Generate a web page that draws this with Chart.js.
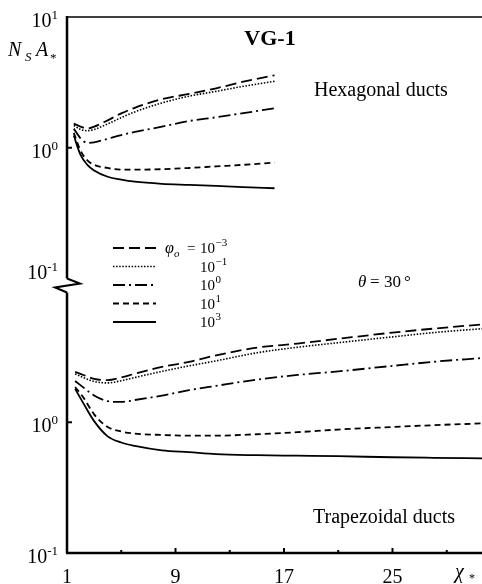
<!DOCTYPE html>
<html><head><meta charset="utf-8">
<script src="https://cdn.jsdelivr.net/npm/chart.js@4.4.1/dist/chart.umd.min.js"></script>
<style>html,body{margin:0;padding:0;background:#fff}#wrap{width:482px;height:584px}</style>
</head><body><div id="wrap"><canvas id="c" width="482" height="584"></canvas></div>
<script>
// ---- data ----
const phiExponents = ['-3', '-1', '0', '1', '3'];
const xTicks = [1, 9, 17, 25];
const xMinorTicks = [5, 13, 21, 29];
const yTopTicks = [0.1, 1, 10];
const yBottomTicks = [0.1, 1];

// Hexagonal ducts (upper panel)
const hexX      = [1.5, 2, 2.5, 3, 4, 5, 6, 8, 10, 12, 14, 16.3];
const hexPhiM3  = [1.53, 1.45, 1.40, 1.45, 1.62, 1.83, 2.02, 2.35, 2.58, 2.85, 3.2, 3.58];
const hexPhiM1  = [1.48, 1.38, 1.35, 1.38, 1.52, 1.70, 1.88, 2.2, 2.48, 2.7, 2.95, 3.22];
const hexPhi0   = [1.40, 1.18, 1.09, 1.10, 1.17, 1.25, 1.32, 1.45, 1.6, 1.71, 1.84, 2.0];
const hexPhi1   = [1.30, 0.95, 0.80, 0.74, 0.70, 0.68, 0.68, 0.685, 0.70, 0.72, 0.74, 0.77];
const hexPhi3   = [1.24, 0.88, 0.74, 0.67, 0.60, 0.57, 0.55, 0.53, 0.52, 0.51, 0.50, 0.49];

// Trapezoidal ducts (lower panel)
const trapX     = [1.6, 2.2, 3, 4, 5, 6, 8, 10, 12, 15, 18, 21, 25, 28, 31.6];
const trapPhiM3 = [2.43, 2.3, 2.15, 2.1, 2.2, 2.35, 2.65, 2.9, 3.25, 3.72, 4.0, 4.35, 4.85, 5.2, 5.6];
const trapPhiM1 = [2.34, 2.2, 2.05, 2.0, 2.08, 2.2, 2.45, 2.7, 2.95, 3.4, 3.75, 4.06, 4.5, 4.85, 5.2];
const trapPhi0  = [2.07, 1.85, 1.6, 1.45, 1.43, 1.48, 1.6, 1.76, 1.9, 2.12, 2.3, 2.45, 2.7, 2.9, 3.1];
const trapPhi1  = [1.86, 1.55, 1.15, 0.92, 0.85, 0.82, 0.80, 0.79, 0.79, 0.81, 0.84, 0.88, 0.92, 0.95, 0.98];
const trapPhi3  = [1.8, 1.4, 1.02, 0.78, 0.70, 0.66, 0.61, 0.59, 0.57, 0.56, 0.555, 0.55, 0.54, 0.535, 0.53];

// ---- styling ----
const dashes = [[11, 5], [1.5, 1.6], [12, 4, 2, 4], [6, 4], []];
const SERIF = '"Liberation Serif", "DejaVu Serif", serif';
const hexSeries = [hexPhiM3, hexPhiM1, hexPhi0, hexPhi1, hexPhi3];
const trapSeries = [trapPhiM3, trapPhiM1, trapPhi0, trapPhi1, trapPhi3];

function mk(xs, ys, axis, i) {
  return {
    data: xs.map((x, k) => ({x: x, y: ys[k]})),
    yAxisID: axis, borderColor: '#000', borderWidth: i === 1 ? 1.6 : 1.8,
    borderDash: dashes[i], pointRadius: 0, fill: false,
    cubicInterpolationMode: 'monotone'
  };
}
const datasets = [];
hexSeries.forEach((s, i) => datasets.push(mk(hexX, s, 'yT', i)));
trapSeries.forEach((s, i) => datasets.push(mk(trapX, s, 'yB', i)));

function text(ctx, str, x, y, size, opts = {}) {
  ctx.font = (opts.style || '') + ' ' + (opts.weight || '') + ' ' + size + 'px ' + SERIF;
  ctx.textAlign = opts.align || 'left';
  ctx.textBaseline = opts.baseline || 'alphabetic';
  ctx.fillText(str, x, y);
  return ctx.measureText(str).width;
}
function width(ctx, str, size) {
  ctx.font = size + 'px ' + SERIF;
  return ctx.measureText(str).width;
}

const decor = {
  id: 'decor',
  afterDraw(chart) {
    const {ctx, chartArea: ca} = chart;
    const x = chart.scales.x, yT = chart.scales.yT, yB = chart.scales.yB;
    ctx.save();
    ctx.strokeStyle = '#000'; ctx.fillStyle = '#000'; ctx.setLineDash([]);
    const L = ca.left;
    const topY = yT.top, botY = yB.bottom;
    const J = yB.top;
    // top frame line
    ctx.lineWidth = 1.5;
    ctx.beginPath(); ctx.moveTo(L, topY); ctx.lineTo(ca.right, topY); ctx.stroke();
    // left axis with break
    ctx.lineWidth = 2.5;
    ctx.beginPath(); ctx.moveTo(L, topY - 1); ctx.lineTo(L, J - 13); ctx.stroke();
    ctx.beginPath(); ctx.moveTo(L, J + 1); ctx.lineTo(L, botY); ctx.stroke();
    ctx.lineWidth = 2;
    ctx.beginPath(); ctx.moveTo(L, J - 13); ctx.lineTo(L + 13, J - 8); ctx.lineTo(L - 12, J - 4); ctx.lineTo(L, J + 1); ctx.stroke();
    // bottom axis
    ctx.lineWidth = 2.5;
    ctx.beginPath(); ctx.moveTo(L - 1, botY); ctx.lineTo(ca.right, botY); ctx.stroke();
    // y ticks (inward)
    ctx.lineWidth = 2;
    [yT.getPixelForValue(1), yB.getPixelForValue(1)].forEach(py => {
      ctx.beginPath(); ctx.moveTo(L, py); ctx.lineTo(L + 5, py); ctx.stroke();
    });
    // x ticks (inward)
    xTicks.slice(1).forEach(v => {
      const px = x.getPixelForValue(v);
      ctx.beginPath(); ctx.moveTo(px, botY); ctx.lineTo(px, botY - 5); ctx.stroke();
    });
    xMinorTicks.forEach(v => {
      const px = x.getPixelForValue(v);
      ctx.beginPath(); ctx.moveTo(px, botY); ctx.lineTo(px, botY - 3); ctx.stroke();
    });

    // y tick labels: 10 with raised exponent, from the scales' own ticks
    [yT, yB].forEach(s => {
      s.ticks.forEach(t => {
        let py = s.getPixelForValue(t.value);
        if (s === yT && t.value < 0.5) py -= 9; // label sits just above the axis break
        const e = String(Math.round(Math.log10(t.value)));
        const we = width(ctx, e, 13);
        const right = L - 9;
        text(ctx, '10', right - we, py + 10, 20, {align: 'right'});
        text(ctx, e, right - we, py + 2, 13);
      });
    });

    // axis titles
    text(ctx, 'N', 8, 56, 20, {style: 'italic'});
    text(ctx, 'S', 25, 61, 13, {style: 'italic'});
    text(ctx, 'A', 36, 56, 20, {style: 'italic'});
    text(ctx, '*', 50, 62, 13);
    text(ctx, 'χ', 455, 578, 20, {style: 'italic'});
    text(ctx, '*', 469, 582, 12);

    // annotations
    text(ctx, 'VG-1', 270, 39, 22, {weight: 'bold', align: 'center', baseline: 'middle'});
    text(ctx, 'Hexagonal ducts', 314, 91, 20, {baseline: 'middle'});
    text(ctx, 'Trapezoidal ducts', 313, 518, 20, {baseline: 'middle'});
    text(ctx, 'θ', 358, 287, 17, {style: 'italic'});
    text(ctx, '=', 370, 287, 17);
    text(ctx, '30', 384, 287, 17);
    text(ctx, '°', 404, 287, 17);

    // legend
    const rowY0 = 248, dy = 18.5;
    for (let i = 0; i < 5; i++) {
      const ry = rowY0 + i * dy;
      ctx.lineWidth = i === 1 ? 1.6 : 1.8; ctx.setLineDash(dashes[i]);
      ctx.beginPath(); ctx.moveTo(113, ry); ctx.lineTo(156, ry); ctx.stroke();
      ctx.setLineDash([]);
      const base = ry + 5;
      if (i === 0) {
        text(ctx, 'φ', 165, base, 16, {style: 'italic'});
        text(ctx, 'o', 174, base + 4, 11, {style: 'italic'});
        text(ctx, '=', 187, base, 15);
      }
      const w = text(ctx, '10', 200, base, 15);
      text(ctx, phiExponents[i].replace('-', '−'), 200 + w + 0.5, base - 7, 11);
    }
    ctx.restore();
  }
};

const commonY = {
  type: 'logarithmic', position: 'left', stack: 'v',
  grid: {display: false}, border: {display: false},
  ticks: {display: false, autoSkip: false},
  afterFit: s => { s.width = 67; }
};

new Chart(document.getElementById('c'), {
  type: 'line',
  data: {datasets: datasets},
  options: {
    responsive: false, animation: false, devicePixelRatio: 1,
    layout: {padding: {top: 17, right: 0, left: 0, bottom: 0}},
    plugins: {legend: {display: false}, tooltip: {enabled: false}},
    scales: {
      x: {
        type: 'linear', min: 1, max: 31.6,
        grid: {display: false}, border: {display: false},
        afterBuildTicks: s => { s.ticks = xTicks.map(v => ({value: v})); },
        ticks: {autoSkip: false, maxRotation: 0, padding: 5, color: '#000',
          font: {family: SERIF, size: 20}, callback: v => String(v)},
        afterFit: s => { s.height = 31; }
      },
      yB: Object.assign({}, commonY, {
        stackWeight: 2, min: 0.1, max: 10,
        afterBuildTicks: s => { s.ticks = yBottomTicks.map(v => ({value: v})); }
      }),
      yT: Object.assign({}, commonY, {
        stackWeight: 2.1, min: Math.pow(10, -1.1), max: 10,
        afterBuildTicks: s => { s.ticks = yTopTicks.map(v => ({value: v})); }
      })
    }
  },
  plugins: [decor]
});
</script>
</body></html>
